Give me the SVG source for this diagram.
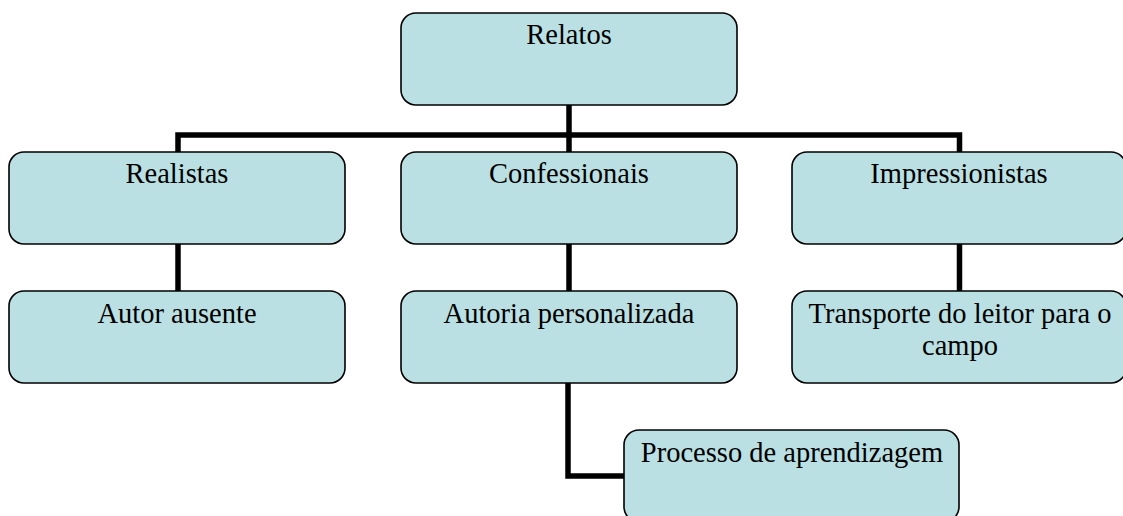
<svg xmlns="http://www.w3.org/2000/svg" width="1123" height="516" viewBox="0 0 1123 516">
<style>
.box{fill:#BAE0E3;stroke:#000;stroke-width:1.6}
.t{font-family:"Liberation Serif","Times New Roman",serif;font-size:28.5px;fill:#000;text-anchor:middle}
.c{fill:none;stroke:#000;stroke-width:5.5;stroke-linejoin:miter}
</style>
<rect width="1123" height="516" fill="#fff"/>
<g id="connectors">
<path class="c" d="M569 105V152"/>
<path class="c" d="M178 152V135H959.5V152"/>
<path class="c" d="M178 244V291"/>
<path class="c" d="M569 244V291"/>
<path class="c" d="M959.5 244V291"/>
<path class="c" d="M568 382V476H624"/>
</g>
<g id="relatos"><rect class="box" x="401" y="13" width="336" height="92" rx="15"/><text class="t" x="569" y="44">Relatos</text></g>
<g id="realistas"><rect class="box" x="9" y="152" width="336" height="92" rx="15"/><text class="t" x="177" y="183">Realistas</text></g>
<g id="confessionais"><rect class="box" x="401" y="152" width="336" height="92" rx="15"/><text class="t" x="569" y="183">Confessionais</text></g>
<g id="impressionistas"><rect class="box" x="792" y="152" width="334" height="92" rx="15"/><text class="t" x="959" y="183">Impressionistas</text></g>
<g id="autor-ausente"><rect class="box" x="9" y="291" width="336" height="92" rx="15"/><text class="t" x="177" y="323">Autor ausente</text></g>
<g id="autoria-personalizada"><rect class="box" x="401" y="291" width="336" height="92" rx="15"/><text class="t" x="569" y="323">Autoria personalizada</text></g>
<g id="transporte"><rect class="box" x="792" y="291" width="334" height="92" rx="15"/><text class="t" x="960" y="323">Transporte do leitor para o</text><text class="t" x="960" y="355">campo</text></g>
<g id="processo"><rect class="box" x="624" y="430" width="335" height="92" rx="15"/><text class="t" x="792" y="462">Processo de aprendizagem</text></g>
</svg>
